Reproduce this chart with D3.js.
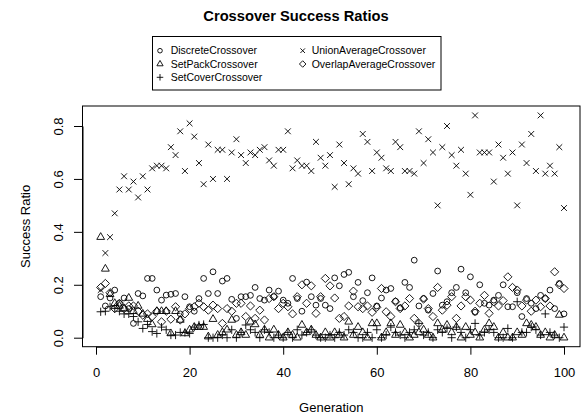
<!DOCTYPE html>
<html>
<head>
<meta charset="utf-8">
<script src="https://cdn.jsdelivr.net/npm/d3@7"></script>
<style>
  body { margin: 0; background: #fff; }
  text { font-family: "Liberation Sans", Arial, Helvetica, sans-serif; fill: #000; }
</style>
</head>
<body>
<div id="chart"></div>
<script>
// generation index on the x axis
const generations = d3.range(1, 101);

const discreteCrossover = [
  0.155, 0.12, 0.15, 0.18, 0.13, 0.15, 0.11, 0.054, 0.167, 0.158,
  0.224, 0.224, 0.18, 0.142, 0.161, 0.164, 0.167, 0.09, 0.155, 0.117,
  0.10, 0.148, 0.224, 0.167, 0.249, 0.167, 0.214, 0.224, 0.145, 0.073,
  0.155, 0.155, 0.16, 0.19, 0.148, 0.142, 0.18, 0.155, 0.176, 0.142,
  0.13, 0.224, 0.148, 0.10, 0.21, 0.155, 0.123, 0.148, 0.123, 0.11,
  0.226, 0.196, 0.239, 0.247, 0.155, 0.209, 0.14, 0.17, 0.226, 0.12,
  0.15, 0.18, 0.186, 0.138, 0.113, 0.209, 0.19, 0.293, 0.12, 0.148,
  0.104, 0.167, 0.252, 0.123, 0.136, 0.17, 0.19, 0.259, 0.17, 0.23,
  0.096, 0.20, 0.13, 0.123, 0.142, 0.16, 0.20, 0.117, 0.117, 0.17,
  0.08, 0.148, 0.13, 0.11, 0.16, 0.148, 0.18, 0.11, 0.205, 0.09
];

const setPackCrossover = [
  0.38, 0.26, 0.164, 0.13, 0.12, 0.11, 0.15, 0.10, 0.12, 0.09,
  0.07, 0.05, 0.10, 0.10, 0.10, 0.016, 0.10, 0.067, 0.016, 0.03,
  0.04, 0.04, 0.04, 0.004, 0.07, 0.01, 0.02, 0.03, 0.067, 0.01,
  0.02, 0.01, 0.06, 0.05, 0.01, 0.03, 0.0, 0.03, 0.01, 0.0,
  0.02, 0.01, 0.0, 0.048, 0.02, 0.03, 0.01, 0.0, 0.02, 0.0,
  0.02, 0.01, 0.0, 0.06, 0.01, 0.04, 0.02, 0.0, 0.054, 0.054,
  0.0, 0.02, 0.054, 0.01, 0.048, 0.02, 0.0, 0.01, 0.02, 0.03,
  0.01, 0.0, 0.054, 0.03, 0.048, 0.02, 0.04, 0.0, 0.04, 0.01,
  0.02, 0.0, 0.03, 0.054, 0.04, 0.0, 0.02, 0.0, 0.0, 0.02,
  0.01, 0.054, 0.048, 0.04, 0.01, 0.02, 0.0, 0.01, 0.086, 0.0
];

const setCoverCrossover = [
  0.098, 0.10, 0.117, 0.11, 0.10, 0.09, 0.09, 0.08, 0.06, 0.035,
  0.05, 0.023, 0.016, 0.04, 0.03, 0.01, 0.01, 0.02, 0.02, 0.016,
  0.04, 0.048, 0.05, 0.0, 0.0, 0.0, 0.01, 0.0, 0.03, 0.0,
  0.02, 0.048, 0.03, 0.02, 0.0, 0.03, 0.02, 0.0, 0.01, 0.0,
  0.02, 0.0, 0.03, 0.01, 0.02, 0.03, 0.01, 0.0, 0.0, 0.01,
  0.0, 0.02, 0.01, 0.03, 0.02, 0.0, 0.0, 0.02, 0.0, 0.03,
  0.0, 0.01, 0.04, 0.02, 0.01, 0.0, 0.02, 0.03, 0.054, 0.01,
  0.02, 0.0, 0.03, 0.02, 0.035, 0.0, 0.04, 0.02, 0.0, 0.03,
  0.054, 0.01, 0.02, 0.03, 0.02, 0.0, 0.0, 0.035, 0.0, 0.136,
  0.02, 0.02, 0.04, 0.03, 0.01, 0.09, 0.02, 0.01, 0.0, 0.04
];

const unionAverageCrossover = [
  0.18, 0.32, 0.38, 0.47, 0.56, 0.61, 0.56, 0.59, 0.53, 0.61,
  0.56, 0.64, 0.65, 0.65, 0.64, 0.72, 0.69, 0.78, 0.63, 0.81,
  0.76, 0.66, 0.58, 0.73, 0.60, 0.71, 0.71, 0.60, 0.70, 0.75,
  0.69, 0.66, 0.70, 0.69, 0.71, 0.72, 0.67, 0.65, 0.71, 0.71,
  0.78, 0.64, 0.67, 0.65, 0.65, 0.63, 0.74, 0.68, 0.65, 0.69,
  0.57, 0.73, 0.66, 0.58, 0.64, 0.62, 0.77, 0.74, 0.63, 0.70,
  0.68, 0.64, 0.63, 0.74, 0.72, 0.63, 0.63, 0.62, 0.78, 0.66,
  0.75, 0.70, 0.50, 0.72, 0.80, 0.69, 0.65, 0.71, 0.62, 0.54,
  0.84, 0.70, 0.70, 0.70, 0.59, 0.73, 0.68, 0.62, 0.70, 0.50,
  0.73, 0.66, 0.77, 0.63, 0.84, 0.62, 0.65, 0.62, 0.72, 0.49
];

const overlapAverageCrossover = [
  0.19, 0.205, 0.17, 0.11, 0.13, 0.11, 0.12, 0.12, 0.10, 0.085,
  0.09, 0.08, 0.10, 0.06, 0.10, 0.07, 0.117, 0.067, 0.09, 0.11,
  0.117, 0.13, 0.117, 0.104, 0.123, 0.11, 0.054, 0.11, 0.10, 0.13,
  0.13, 0.08, 0.12, 0.073, 0.104, 0.067, 0.148, 0.155, 0.11, 0.13,
  0.117, 0.09, 0.155, 0.20, 0.13, 0.196, 0.092, 0.155, 0.224, 0.196,
  0.15, 0.073, 0.08, 0.12, 0.176, 0.117, 0.11, 0.12, 0.096, 0.115,
  0.186, 0.098, 0.08, 0.136, 0.11, 0.12, 0.148, 0.073, 0.054, 0.146,
  0.11, 0.08, 0.19, 0.104, 0.123, 0.155, 0.073, 0.12, 0.155, 0.142,
  0.10, 0.13, 0.16, 0.092, 0.136, 0.12, 0.14, 0.23, 0.19, 0.18,
  0.12, 0.142, 0.10, 0.142, 0.117, 0.148, 0.12, 0.249, 0.20, 0.186
];

const seriesNames = ['DiscreteCrossover', 'SetPackCrossover', 'SetCoverCrossover',
  'UnionAverageCrossover', 'OverlapAverageCrossover'];
const seriesShapes = ['circle', 'triangle', 'plus', 'cross', 'diamond'];
const seriesValues = [discreteCrossover, setPackCrossover, setCoverCrossover,
  unionAverageCrossover, overlapAverageCrossover];

const xTicks = [0, 20, 40, 60, 80, 100];
const yTicks = [0, 0.2, 0.4, 0.6, 0.8];

/**
 * Path for an R-style plotting symbol centred on (x, y).
 */
function symbolPath(shape, x, y, s) {
  let p = d3.path();
  let c = Math.SQRT2 * s;
  if (shape === 'circle') {
    p.moveTo(x + s, y);
    p.arc(x, y, s, 0, 2 * Math.PI);
  } else if (shape === 'triangle') {
    let r = 1.555 * s, xc = 1.3468 * s, yc = 0.7756 * s;
    p.moveTo(x, y - r);
    p.lineTo(x + xc, y + yc);
    p.lineTo(x - xc, y + yc);
    p.closePath();
  } else if (shape === 'plus') {
    p.moveTo(x - c, y); p.lineTo(x + c, y);
    p.moveTo(x, y - c); p.lineTo(x, y + c);
  } else if (shape === 'cross') {
    p.moveTo(x - s, y - s); p.lineTo(x + s, y + s);
    p.moveTo(x - s, y + s); p.lineTo(x + s, y - s);
  } else if (shape === 'diamond') {
    p.moveTo(x - c, y); p.lineTo(x, y - c);
    p.lineTo(x + c, y); p.lineTo(x, y + c);
    p.closePath();
  }
  return p.toString();
}

class CrossoverChart {
  constructor() {
    this.width = 583;
    this.height = 416;
    this.box = { left: 82.5, right: 580, top: 106, bottom: 346.7 };

    this.xScale = d3.scaleLinear().domain([0, 100]).range([96, 564]);
    this.yScale = d3.scaleLinear().domain([0, 0.8]).range([337.7, 126]);
  }

  create() {
    this.svg = d3.select('#chart').append('svg')
      .attr('width', this.width)
      .attr('height', this.height);

    this.svg.append('rect')
      .attr('width', this.width)
      .attr('height', this.height)
      .attr('fill', '#fff');

    this.createTitle();
    this.createLegend();
    this.createAxes();
    this.createPoints();
  }

  createTitle() {
    this.svg.append('text')
      .attr('x', 296)
      .attr('y', 20.5)
      .attr('text-anchor', 'middle')
      .style('font-size', '14.7px')
      .style('font-weight', 'bold')
      .text('Crossover Success Ratios');
  }

  createLegend() {
    let legend = this.svg.append('g').attr('id', 'legend');

    legend.append('rect')
      .attr('x', 152.5)
      .attr('y', 36.5)
      .attr('width', 288.5)
      .attr('height', 53.5)
      .attr('fill', 'none')
      .attr('stroke', '#000')
      .attr('stroke-width', 1);

    let symX = [160, 302.7];
    let textX = [170.7, 311.7];

    seriesNames.forEach((name, i) => {
      let col = i < 3 ? 0 : 1;
      let row = i < 3 ? i : i - 3;
      let cy = 50.7 + row * 13.3;

      legend.append('path')
        .attr('d', symbolPath(seriesShapes[i], symX[col], cy, 2.3))
        .attr('fill', 'none')
        .attr('stroke', '#000')
        .attr('stroke-width', 0.9);

      legend.append('text')
        .attr('x', textX[col])
        .attr('y', cy)
        .attr('dy', '0.36em')
        .style('font-size', '10.5px')
        .text(name);
    });
  }

  createAxes() {
    let b = this.box;

    this.svg.append('rect')
      .attr('x', b.left)
      .attr('y', b.top)
      .attr('width', b.right - b.left)
      .attr('height', b.bottom - b.top)
      .attr('fill', 'none')
      .attr('stroke', '#000')
      .attr('stroke-width', 1);

    let xAxis = d3.axisBottom(this.xScale)
      .tickValues(xTicks)
      .tickSizeInner(8)
      .tickSizeOuter(0)
      .tickPadding(13.5)
      .tickFormat(d3.format('d'));

    let xGroup = this.svg.append('g')
      .attr('transform', `translate(0, ${b.bottom})`)
      .call(xAxis);

    let yAxis = d3.axisLeft(this.yScale)
      .tickValues(yTicks)
      .tickSizeInner(8.5)
      .tickSizeOuter(0)
      .tickFormat(d3.format('.1f'));

    let yGroup = this.svg.append('g')
      .attr('transform', `translate(${b.left}, 0)`)
      .call(yAxis);

    yGroup.selectAll('.tick text')
      .attr('x', 0)
      .attr('dy', 0)
      .attr('text-anchor', 'middle')
      .attr('transform', `translate(${63.3 - b.left}, 0) rotate(-90)`);

    [xGroup, yGroup].forEach(g => {
      g.selectAll('path, line').attr('stroke', '#000').attr('stroke-width', 1);
      g.selectAll('text').style('font-size', '13px').attr('fill', '#000');
      g.attr('font-family', null).attr('font-size', null);
    });

    this.svg.append('text')
      .attr('x', (b.left + b.right) / 2)
      .attr('y', 411.5)
      .attr('text-anchor', 'middle')
      .style('font-size', '13px')
      .text('Generation');

    this.svg.append('text')
      .attr('transform', `translate(29.7, ${(b.top + b.bottom) / 2}) rotate(-90)`)
      .attr('text-anchor', 'middle')
      .style('font-size', '13px')
      .text('Success Ratio');
  }

  createPoints() {
    let points = this.svg.append('g').attr('id', 'points');

    seriesValues.forEach((values, i) => {
      points.append('g')
        .selectAll('path')
        .data(values)
        .enter()
        .append('path')
        .attr('d', (d, j) => symbolPath(seriesShapes[i],
          this.xScale(generations[j]), this.yScale(d), 2.9))
        .attr('fill', 'none')
        .attr('stroke', '#000')
        .attr('stroke-width', 0.9);
    });
  }
}

let chart = new CrossoverChart();
chart.create();
</script>
</body>
</html>
